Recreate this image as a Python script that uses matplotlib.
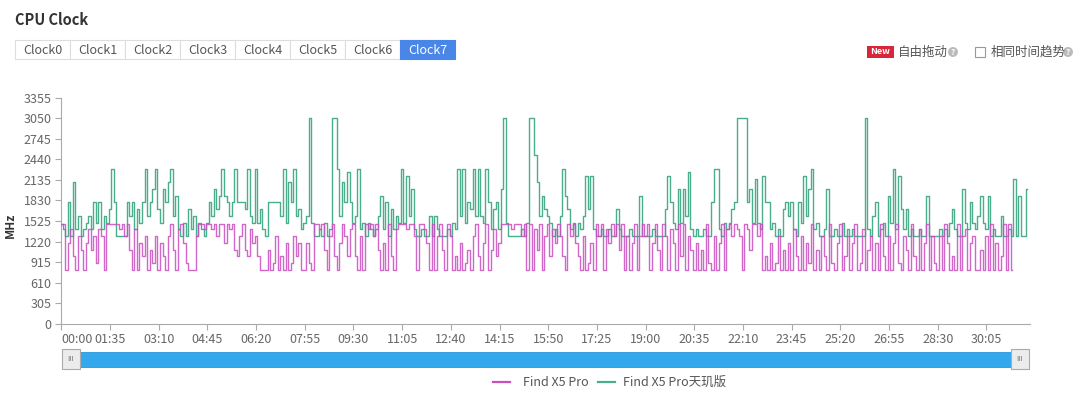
import matplotlib
matplotlib.use("Agg")
import matplotlib.pyplot as plt
from matplotlib.patches import Rectangle, Circle

plt.rcParams['font.family'] = ['Noto Sans CJK SC', 'DejaVu Sans']

# samples every 5 s, one row per 95 s tick interval
find_x5_pro = [
    1480, 1480, 800, 1200, 1400, 1000, 800, 1300, 1100, 800, 1200, 1400, 1100, 1300, 900, 1400, 1300, 800, 1480,
    1480, 1480, 1480, 1480, 1400, 1480, 1300, 1480, 1100, 800, 1400, 800, 1200, 1000, 1300, 800, 1100, 900, 1300,
    800, 1200, 1000, 800, 1300, 1480, 1100, 800, 1400, 1480, 1200, 900, 800, 800, 800, 1300, 1480, 1480, 1400,
    1480, 1480, 1400, 1480, 1300, 1480, 1480, 1200, 1480, 1400, 1480, 1100, 1000, 1300, 1480, 1100, 1000, 1400, 1200,
    1300, 1000, 800, 800, 800, 1100, 800, 900, 1300, 800, 1000, 800, 1200, 800, 900, 1300, 1000, 1200, 800,
    800, 1200, 900, 800, 1480, 1480, 1400, 1480, 1100, 800, 1300, 1480, 1000, 800, 1200, 1480, 1300, 1000, 1400,
    1480, 1000, 800, 1300, 800, 1480, 1400, 1480, 1300, 1480, 1100, 800, 1200, 800, 1480, 1000, 800, 1400, 1480,
    1480, 1480, 1400, 1480, 1480, 1300, 800, 1480, 1480, 1400, 1200, 800, 1480, 800, 1300, 1480, 1100, 800, 1480,
    1300, 800, 1000, 800, 1200, 800, 900, 1100, 800, 1300, 1480, 1000, 800, 1200, 1480, 800, 1100, 1400, 1000,
    1200, 1480, 1480, 1480, 1480, 1400, 1480, 1480, 1480, 1300, 1480, 800, 1480, 800, 1400, 1100, 1480, 800, 1300,
    1480, 1000, 1400, 1200, 1480, 1300, 1000, 800, 1480, 1300, 1480, 1200, 1000, 800, 1300, 800, 900, 1200, 800,
    1480, 1300, 1480, 800, 1400, 1200, 1480, 1300, 1480, 1100, 1480, 800, 1300, 800, 1200, 1480, 800, 1300, 1480,
    1300, 1480, 800, 1200, 1480, 1100, 800, 1480, 1300, 800, 1400, 1200, 800, 1480, 1000, 1480, 800, 1300, 1100,
    800, 1200, 800, 1100, 800, 1480, 900, 800, 1300, 800, 1200, 1480, 800, 1400, 1480, 1300, 1480, 1400, 1300,
    800, 1480, 1400, 1100, 1480, 1480, 1300, 1480, 800, 1000, 800, 1200, 800, 900, 1300, 800, 1100, 800, 1200,
    800, 1400, 1000, 800, 1300, 800, 1200, 900, 1480, 800, 1100, 800, 1300, 1000, 800, 1480, 900, 800, 1200,
    1480, 800, 1000, 1300, 800, 1200, 1480, 800, 900, 1400, 800, 1100, 1300, 800, 1200, 800, 1480, 1000, 800,
    1300, 800, 1200, 1480, 900, 800, 1300, 1100, 800, 1480, 1000, 800, 1400, 800, 1200, 1480, 800, 1300, 900,
    800, 1300, 800, 1480, 1200, 800, 1000, 800, 1480, 800, 1300, 1400, 800, 1200, 1300, 800, 800, 1100, 800,
    1300, 800, 1480, 800, 1200, 800, 1000, 1480, 800, 1480, 800,
]

find_x5_pro_tianji = [
    1480, 1400, 1300, 1800, 1300, 2100, 1400, 1600, 1300, 1400, 1500, 1600, 1400, 1800, 1500, 1800, 1400, 1600, 1500,
    1700, 2300, 1800, 1300, 1300, 1300, 1300, 1800, 1600, 1800, 1400, 1700, 1500, 1800, 2300, 1600, 1800, 2000, 2300,
    1700, 1500, 2000, 1800, 2100, 2300, 1600, 1900, 1400, 1300, 1500, 1300, 1700, 1400, 1600, 1300, 1500, 1400, 1300,
    1500, 1800, 1600, 2000, 1700, 1900, 2300, 1900, 1800, 1600, 1800, 2300, 1800, 1800, 1800, 1700, 2300, 1600, 1500,
    2300, 1500, 1700, 1400, 1300, 1800, 1800, 1800, 1800, 1800, 1600, 2300, 1500, 2100, 1800, 2300, 1600, 1700, 1400,
    1500, 1600, 3050, 1500, 1300, 1300, 1400, 1300, 1500, 1300, 1400, 3050, 3050, 2300, 1600, 2100, 1800, 2250, 1800,
    1500, 1600, 2300, 1400, 1500, 1300, 1500, 1400, 1300, 1400, 1600, 1900, 1400, 1800, 1300, 1700, 1400, 1600, 1500,
    2300, 1500, 2200, 1600, 2000, 1400, 1300, 1300, 1400, 1300, 1300, 1600, 1300, 1600, 1400, 1300, 1300, 1300, 1400,
    1300, 1500, 1400, 2300, 1600, 2300, 1500, 1800, 1700, 2300, 1600, 2300, 1600, 1500, 2300, 1800, 1400, 1700, 1800,
    1400, 2000, 3050, 1500, 1300, 1300, 1300, 1300, 1300, 1400, 1300, 1500, 3050, 3050, 2500, 2100, 1600, 1900, 1700,
    1600, 1500, 1300, 1400, 1300, 1600, 2300, 1900, 1700, 1400, 1500, 1300, 1500, 1400, 1600, 2200, 1700, 2200, 1400,
    1300, 1300, 1400, 1300, 1300, 1400, 1300, 1300, 1700, 1400, 1300, 1300, 1300, 1400, 1300, 1300, 1300, 1900, 1300,
    1300, 1300, 1300, 1400, 1300, 1300, 1300, 1300, 1700, 2200, 1800, 1500, 1400, 2000, 1500, 2000, 1600, 2250, 1400,
    1300, 1400, 1300, 1300, 1400, 1300, 1300, 1800, 2300, 2300, 1400, 1300, 1500, 1400, 1500, 1700, 1800, 3050, 3050,
    3050, 3050, 1800, 2000, 1500, 2150, 1500, 1400, 2200, 1800, 1800, 1400, 1500, 1300, 1400, 1300, 1700, 1800, 1600,
    1800, 1400, 1300, 1800, 1500, 2200, 1600, 2000, 2300, 1400, 1500, 1300, 1300, 1400, 2000, 1300, 1300, 1400, 1300,
    1300, 1500, 1300, 1400, 1300, 1400, 1300, 1300, 1300, 1300, 3050, 1400, 1300, 1600, 1800, 1300, 1400, 1500, 1300,
    1900, 1500, 2300, 1400, 2200, 1700, 1400, 1700, 1300, 1400, 1300, 1300, 1400, 1300, 1300, 1900, 1300, 1300, 1300,
    1300, 1400, 1300, 1400, 1300, 1500, 1700, 1400, 1300, 1300, 2000, 1500, 1400, 1800, 1500, 1400, 1600, 1900, 1500,
    1400, 1900, 1300, 1400, 1300, 1300, 1600, 1300, 1300, 1400, 1300, 2150, 1300, 1900, 1300, 1300, 2000,
]

y_ticks = [0, 305, 610, 915, 1220, 1525, 1830, 2135, 2440, 2745, 3050, 3355]
x_ticks = list(range(0, 1806, 95))
tabs = ["Clock0", "Clock1", "Clock2", "Clock3", "Clock4", "Clock5", "Clock6", "Clock7"]
names = ["Find X5 Pro", "Find X5 Pro天玑版"]

PINK = "#c94ec0"
GREEN = "#4aae8c"
STEP = 5

fig = plt.figure(figsize=(10.8, 3.99), dpi=100)

ax = fig.add_axes([61.3 / 1080, 75.3 / 399, (1030 - 61.3) / 1080, 226 / 399])
t_green = [i * STEP for i in range(len(find_x5_pro_tianji))]
t_pink = [i * STEP for i in range(len(find_x5_pro))]
ax.plot(t_green, find_x5_pro_tianji, color=GREEN, lw=1.0, drawstyle="steps-mid", zorder=2)
ax.plot(t_pink, find_x5_pro, color=PINK, lw=1.0, alpha=0.85, drawstyle="steps-mid", zorder=3)

ax.set_xlim(0, 1890)
ax.set_ylim(0, 3355)
ax.set_yticks(y_ticks)
ax.set_yticklabels([str(v) for v in y_ticks])
ax.set_xticks(x_ticks)
ax.set_xticklabels([f"{t // 60:02d}:{t % 60:02d}" for t in x_ticks])
ax.get_xticklabels()[0].set_ha("left")
for s in ["top", "right"]:
    ax.spines[s].set_visible(False)
for s in ["left", "bottom"]:
    ax.spines[s].set_color("#aaaaaa")
ax.tick_params(axis="both", colors="#aaaaaa", labelcolor="#666666", labelsize=9, length=4, pad=3)

# overlay in pixel coords for the page widgets
ov = fig.add_axes([0, 0, 1, 1])
ov.set_xlim(0, 1080)
ov.set_ylim(399, 0)
ov.axis("off")

ov.text(10, 225, "MHz", fontsize=8.5, fontweight="bold", color="#333333",
        rotation=90, ha="center", va="center")
ov.text(15, 20, "CPU Clock", fontsize=10.5, fontweight="bold", color="#333333", va="center")

for i, name in enumerate(tabs):
    x0 = 15 + i * 55
    sel = i == len(tabs) - 1
    ov.add_patch(Rectangle((x0, 40), 55, 19, fc="#4a86e8" if sel else "white",
                           ec="#4a86e8" if sel else "#dddddd", lw=0.8))
    ov.text(x0 + 27.5, 50, name, fontsize=9, color="white" if sel else "#555555",
            ha="center", va="center")

ov.add_patch(Rectangle((867, 46), 27, 12, fc="#d9263a", ec="none"))
ov.text(880.5, 52, "New", fontsize=6.5, fontweight="bold", color="white", ha="center", va="center")
ov.text(898, 52, "自由拖动", fontsize=9, color="#555555", va="center")
for cx in [953, 1068]:
    ov.add_patch(Circle((cx, 52), 5, fc="#bbbbbb", ec="none"))
    ov.text(cx, 52.5, "?", fontsize=6, fontweight="bold", color="white", ha="center", va="center")
ov.add_patch(Rectangle((975, 47), 10, 10, fc="white", ec="#999999", lw=0.8))
ov.text(991, 52, "相同时间趋势", fontsize=9, color="#555555", va="center")

# data zoom slider
ov.add_patch(Rectangle((70, 352), 950, 15, fc="#33a8ec", ec="#2a96d8", lw=0.6))
for hx in [62, 1011]:
    ov.add_patch(Rectangle((hx, 349), 18, 20, fc="#ececec", ec="#aaaaaa", lw=0.8))
    ov.text(hx + 9, 359, "III", fontsize=5.5, color="#777777", ha="center", va="center")

# legend
for lx, tx, col, name in [(493, 523, PINK, names[0]), (598, 623, GREEN, names[1])]:
    ov.plot([lx, lx + 17], [382, 382], color=col, lw=1.6)
    ov.text(tx, 382, name, fontsize=9, color="#555555", va="center")

fig.savefig("out.png", dpi=100)
